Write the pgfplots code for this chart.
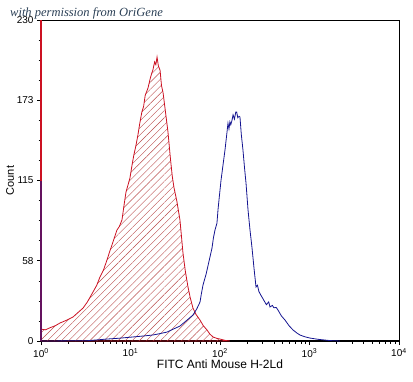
\documentclass[border=0pt]{standalone}
\usepackage{pgfplots}
\pgfplotsset{compat=1.18}
\usepackage{fontspec}
\setmainfont{Liberation Sans}
\newfontfamily\wmfont{Liberation Serif}
\usetikzlibrary{patterns.meta}
\definecolor{fred}{HTML}{CC1122}
\definecolor{hred}{HTML}{B84A4A}
\definecolor{fblue}{HTML}{141490}
\definecolor{wm}{HTML}{2A3F55}
\begin{document}
\begin{tikzpicture}[x=1pt,y=1pt]
\begin{axis}[
  anchor=south west, at={(0pt,0pt)},
  scale only axis, width=358pt, height=321pt,
  xmode=log, xmin=1, xmax=10000,
  ymin=0, ymax=230,
  xtick={1,10,100,1000,10000},
  xticklabels={10\textsuperscript{0},10\textsuperscript{1},10\textsuperscript{2},10\textsuperscript{3},10\textsuperscript{4}},
  ytick={0,57.5,115,172.5,230},
  yticklabels={0,58,115,173,230},
  minor y tick num=3,
  xtick pos=bottom, ytick pos=left,
  tick align=outside,
  major tick length=4pt, minor tick length=2.5pt,
  tick style={black, line width=0.6pt},
  axis line style={line width=0.8pt},
  ticklabel style={font=\fontsize{10}{11}\selectfont},
  /pgf/number format/assume math mode=true,
  xlabel={FITC Anti Mouse H-2Ld},
  ylabel={Count},
  xlabel style={font=\fontsize{12}{13}\selectfont, yshift=4pt},
  ylabel style={font=\fontsize{11}{12}\selectfont, yshift=-4pt},
  clip=false,
]
\draw[line width=1.8pt] (rel axis cs:0,1) -- (rel axis cs:0,0) -- (rel axis cs:1,0);
% red (isotype) hatched histogram
\addplot[draw=fred, line width=0.8pt, pattern={Lines[angle=45,distance=5pt,line width=0.4pt]}, pattern color=hred] coordinates {
(1.0,8.5) (1.12,8.0) (1.26,9.5) (1.45,11.0) (1.63,12.9) (1.95,15.0) (2.28,17.2) (2.6,20.5) (2.95,23.6) (3.3,28) (3.81,35.1) (4.2,40) (4.56,45.9) (5.0,51) (5.46,58) (5.85,64) (6.21,68.8) (6.6,74) (7.06,79.5) (7.5,82) (8.03,86.7) (8.5,98) (8.91,106.8) (9.4,112) (9.86,116.8) (10.4,126) (10.9,133.3) (11.5,140) (12.1,147.6) (12.7,156) (13.4,164.1) (14.0,168) (14.6,176) (15.7,181.3) (16.6,188) (17.3,192) (17.8,194.2) (18.6,200) (19.2,198) (19.8,203.5) (20.5,197) (21.4,194) (22.2,183) (23.1,178) (24.5,165) (26.2,150) (28,130) (29.3,118) (30.6,110) (33,100) (35.7,86.7) (38.6,63) (41,50) (43.9,38.7) (46.5,31) (49.9,23.6) (54,19) (59.8,15) (65,11) (71.6,7.9) (77,5) (83.5,2.9) (92,1.9) (100,1.4) (115,0.4) (129,0)
} \closedcycle;
% blue (antibody) histogram
\addplot[draw=fblue, line width=0.8pt] coordinates {
(1.0,0) (3.27,0.2) (5.46,1.4) (7.5,2.0) (10.7,2.9) (14,3.6) (17.8,4.3) (21,5.2) (25.6,6.4) (30,8.5) (35.7,10.7) (42,14.5) (49.9,18.6) (55,23) (59.8,27.9) (62,34) (64.6,40.1) (70,48) (77.3,60.2) (81.4,66.6) (84.5,74) (87.9,79.5) (92.5,84.5) (95,94) (98.5,104) (102.6,115) (108,126) (113.7,136.8) (118,146) (122.8,156) (126,152) (129,157) (132,155) (136,158) (140,162) (145,159) (150,164) (153.6,164) (158,160) (163,161) (167.2,160.5) (173,148) (180.6,136.8) (188,124) (195.4,113) (205.6,94) (216,80) (228,66.6) (240,52) (252.6,38.7) (262,40) (272,35.5) (285,33) (294.6,31.5) (310,29) (330,26) (350,28) (362,24.4) (385,25.5) (400,23.8) (425,24) (444.6,22.2) (485,18) (532.6,15) (590,11) (654.5,7.9) (720,5.8) (783,4.3) (880,3.1) (1014,2.1) (1250,1.2) (1694,0.3) (2190,0)
};
\addplot[fred, line width=1.2pt] coordinates {(1,0) (1,230)};
\addplot[fblue!70!fred, line width=1.2pt, opacity=0.8] coordinates {(1,0) (1,115)};
\end{axis}
\node[anchor=base west, text=wm, font=\wmfont\itshape\fontsize{12.5}{13}\selectfont, inner sep=0pt] at (-31pt,324pt) {with permission from OriGene};
\pgfresetboundingbox
\useasboundingbox (-41pt,-40pt) rectangle (372pt,341pt);
\end{tikzpicture}
\end{document}
